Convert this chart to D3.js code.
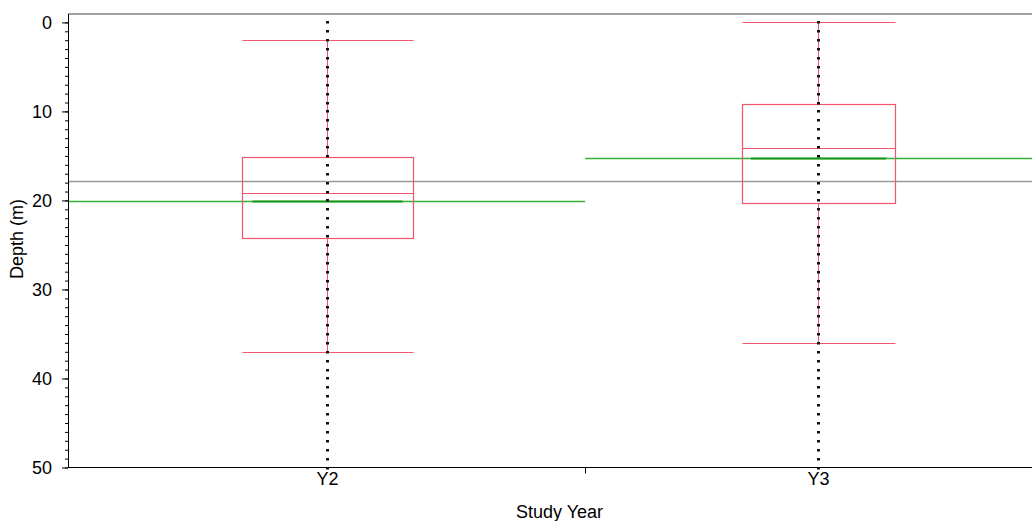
<!DOCTYPE html>
<html>
<head>
<meta charset="utf-8">
<script src="https://cdn.jsdelivr.net/npm/d3@7"></script>
<style>
  body { margin: 0; background: #fff; }
  svg text { font-family: Arial, "Liberation Sans", sans-serif; fill: #000; }
</style>
</head>
<body>
<div id="chart"></div>
<script>
// Box plot data (depth in metres)
var groups = ["Y2", "Y3"];
var groupN = [111, 100];            // group sizes, x axis proportional
var whiskerTop = [2, 0];
var boxTop = [15.12, 9.17];
var medians = [19.22, 14.11];
var boxBottom = [24.22, 20.29];
var whiskerBottom = [37, 36];
var means = [20.06, 15.23];
var grandMean = 17.8;
var depthsY2 = [0, 1, 2, 3, 4, 5, 6, 7, 8, 9, 10, 11, 12, 13, 14, 15, 16, 17, 18, 19, 20,
    21, 22, 23, 24, 25, 26, 27, 28, 29, 30, 31, 32, 33, 34, 35, 36, 37, 38, 39, 40,
    41, 42, 43, 44, 45, 46, 47, 48, 49, 50];
var depthsY3 = [0, 1, 2, 3, 4, 5, 6, 7, 8, 9, 10, 11, 12, 13, 14, 15, 16, 17, 18, 19, 20,
    21, 22, 23, 24, 25, 26, 27, 28, 29, 30, 31, 32, 33, 34, 35, 36, 37, 38, 39, 40,
    41, 42, 43, 44, 45, 46, 47, 48, 49, 50];
var yTicks = [0, 10, 20, 30, 40, 50];

var width = 1032;
var height = 521;
var margin = {left: 68, top: 13.5, bottom: 467.5};
var plotRight = 1051;

var boxRed = "#f2566c";
var green = "#1a961a";

var svg = d3.select("#chart")
    .append("svg")
    .attr("width", width)
    .attr("height", height);

var y = d3.scaleLinear()
    .domain([-1, 50])
    .range([margin.top, margin.bottom]);

// snap horizontal lines to the pixel grid
function py(v) {
    return Math.round(y(v)) + 0.5;
}

// proportional x axis: each band as wide as its group size
var total = d3.sum(groupN);
var xEdge = d3.scaleLinear()
    .domain([0, total])
    .range([margin.left, plotRight]);

var data = groups.map(function(g, i) {
    var start = d3.sum(groupN.slice(0, i));
    var x0 = xEdge(start);
    var x1 = xEdge(start + groupN[i]);
    var cx = Math.round((x0 + x1) / 2) + 0.5;
    var bw = (x1 - x0) * 0.33;
    return {
        name: g,
        x0: x0,
        x1: x1,
        cx: cx,
        bl: Math.round(cx - bw / 2) + 0.5,
        br: Math.round(cx + bw / 2) + 0.5,
        wTop: whiskerTop[i],
        q1: boxTop[i],
        med: medians[i],
        q3: boxBottom[i],
        wBot: whiskerBottom[i],
        mean: means[i],
        points: i === 0 ? depthsY2 : depthsY3
    };
});

// frame: top border
svg.append("line")
    .attr("x1", margin.left).attr("x2", width)
    .attr("y1", margin.top + 0.5).attr("y2", margin.top + 0.5)
    .style("stroke", "#444")
    .style("stroke-width", 1.2);

// grand mean line
svg.append("line")
    .attr("x1", margin.left).attr("x2", width)
    .attr("y1", py(grandMean)).attr("y2", py(grandMean))
    .style("stroke", "#999")
    .style("stroke-width", 1.3);

var grp = svg.selectAll(".grp")
    .data(data)
    .enter().append("g")
    .attr("class", "grp");

// group mean lines across the band
grp.append("line")
    .attr("x1", function(d) { return d.x0; })
    .attr("x2", function(d) { return d.x1; })
    .attr("y1", function(d) { return py(d.mean); })
    .attr("y2", function(d) { return py(d.mean); })
    .style("stroke", "#35b035")
    .style("stroke-width", 1.4);

grp.append("line")
    .attr("x1", function(d) { return d.cx - (d.x1 - d.x0) * 0.145; })
    .attr("x2", function(d) { return d.cx + (d.x1 - d.x0) * 0.145; })
    .attr("y1", function(d) { return py(d.mean); })
    .attr("y2", function(d) { return py(d.mean); })
    .style("stroke", green)
    .style("stroke-width", 2);

// whiskers
grp.append("line")
    .attr("x1", function(d) { return d.cx; })
    .attr("x2", function(d) { return d.cx; })
    .attr("y1", function(d) { return py(d.wTop); })
    .attr("y2", function(d) { return py(d.q1); })
    .style("stroke", boxRed);
grp.append("line")
    .attr("x1", function(d) { return d.cx; })
    .attr("x2", function(d) { return d.cx; })
    .attr("y1", function(d) { return py(d.q3); })
    .attr("y2", function(d) { return py(d.wBot); })
    .style("stroke", boxRed);

// whisker caps
["wTop", "wBot"].forEach(function(k) {
    grp.append("line")
        .attr("x1", function(d) { return d.bl; })
        .attr("x2", function(d) { return d.br; })
        .attr("y1", function(d) { return py(d[k]); })
        .attr("y2", function(d) { return py(d[k]); })
        .style("stroke", boxRed)
        .style("stroke-width", 1.2);
});

// boxes
grp.append("rect")
    .attr("x", function(d) { return d.bl; })
    .attr("width", function(d) { return d.br - d.bl; })
    .attr("y", function(d) { return py(d.q1); })
    .attr("height", function(d) { return py(d.q3) - py(d.q1); })
    .style("fill", "none")
    .style("stroke", boxRed)
    .style("stroke-width", 1.2);

// medians
grp.append("line")
    .attr("x1", function(d) { return d.bl; })
    .attr("x2", function(d) { return d.br; })
    .attr("y1", function(d) { return py(d.med); })
    .attr("y2", function(d) { return py(d.med); })
    .style("stroke", boxRed)
    .style("stroke-width", 1.2);

// data points
grp.each(function(d) {
    d3.select(this).selectAll(".pt")
        .data(d.points)
        .enter().append("rect")
        .attr("class", "pt")
        .attr("x", d.cx - 1.5)
        .attr("y", function(v) { return Math.round(y(v)) - 1; })
        .attr("width", 3)
        .attr("height", 2.5)
        .style("fill", "#111");
});

// y axis
svg.append("g")
    .attr("transform", "translate(" + margin.left + ",0)")
    .call(d3.axisLeft(y).tickValues(d3.range(0, 51, 1)).tickSize(3).tickFormat("").tickSizeOuter(0))
    .call(function(g) { g.select(".domain").remove(); })
    .selectAll("line").style("stroke", "#000");

var yAxis = svg.append("g")
    .attr("transform", "translate(" + margin.left + ",0)")
    .call(d3.axisLeft(y).tickValues(yTicks).tickSize(6).tickSizeOuter(0).tickPadding(10));
yAxis.select(".domain").style("stroke", "#000");
yAxis.selectAll("text").style("font-size", "18px").style("font-family", "Arial, 'Liberation Sans', sans-serif");

// bottom axis line and band separators
svg.append("line")
    .attr("x1", margin.left).attr("x2", width)
    .attr("y1", margin.bottom).attr("y2", margin.bottom)
    .style("stroke", "#000");

svg.selectAll(".sep")
    .data(data.slice(1))
    .enter().append("line")
    .attr("x1", function(d) { return Math.round(d.x0) + 0.5; })
    .attr("x2", function(d) { return Math.round(d.x0) + 0.5; })
    .attr("y1", margin.bottom)
    .attr("y2", margin.bottom + 6)
    .style("stroke", "#000");

svg.selectAll(".cat")
    .data(data)
    .enter().append("text")
    .attr("x", function(d) { return d.cx; })
    .attr("y", 485)
    .attr("text-anchor", "middle")
    .style("font-size", "18px")
    .text(function(d) { return d.name; });

svg.append("text")
    .attr("x", (margin.left + plotRight) / 2)
    .attr("y", 518)
    .attr("text-anchor", "middle")
    .style("font-size", "18px")
    .text("Study Year");

svg.append("text")
    .attr("transform", "translate(23,239) rotate(-90)")
    .attr("text-anchor", "middle")
    .style("font-size", "18px")
    .text("Depth (m)");
</script>
</body>
</html>
